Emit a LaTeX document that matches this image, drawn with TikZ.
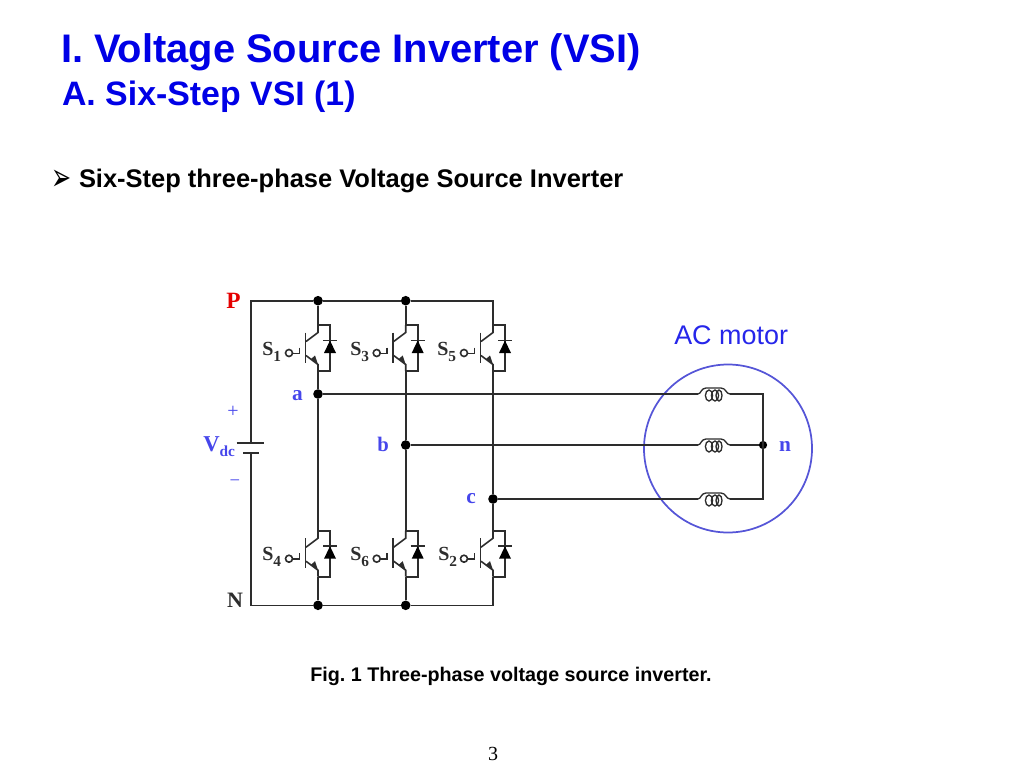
\documentclass[tikz,border=0pt]{standalone}
\usepackage{fontspec}
\setmainfont{Liberation Sans}
\newfontfamily\serifb{Liberation Serif}
\newfontfamily\dejav{DejaVu Sans}
\usetikzlibrary{arrows.meta}
\definecolor{titleblue}{RGB}{0,0,230}
\definecolor{labelblue}{RGB}{70,70,235}
\definecolor{wirec}{RGB}{45,45,45}
\definecolor{motorc}{RGB}{85,85,215}
\newcommand{\fsz}[1]{\fontsize{#1}{#1}\selectfont}
\newcommand{\subs}[1]{\raisebox{-4.5pt}{\fsz{11.5}#1}}
\tikzset{
  x=0.75pt,y=-0.75pt,
  wire/.style={draw=wirec,line width=1.2pt},
  thin wire/.style={draw=wirec,line width=1pt},
  txt/.style={inner sep=0pt,outer sep=0pt,anchor=base west},
  junction/.style={circle,fill=black,inner sep=0pt,minimum size=7.2pt},
  sw label/.style={inner sep=0pt,anchor=base west,text=wirec,font=\serifb\bfseries\fsz{15}},
  cir label/.style={inner sep=0pt,anchor=base,text=labelblue,font=\serifb\bfseries\fsz{16}},
  pics/igbt/.style={code={
    \coordinate (-c) at (0,-24.5);
    \coordinate (-e) at (0,21.5);
    \draw[wire] (0,-24.5) -- (0,-17) -- (-12,-8);
    \draw[wire] (-12,6) -- (0,15) -- (0,21.5);
    \draw[wire,line width=1.3pt] (-12.5,-17) -- (-12.5,13);
    \fill[wirec] (0,15) -- (-7,9.5) -- (-3,6) -- cycle;
    \draw[wire] (0,-24.5) -- (12,-24.5) -- (12,21.5) -- (0,21.5);
    \draw[wire] (5,-9) -- (19,-9);
    \fill[black] (12,-9) -- (18,3.5) -- (6,3.5) -- cycle;
    \draw[wire] (-18.5,-2) -- (-18.5,4) -- (-25.5,4);
    \draw[wire,fill=white] (-29,3.5) circle (3.5);
  }},
  pics/coil/.style={code={
    \draw[thin wire] (-16,0) .. controls (-13,0) and (-13,-6) .. (-8,-6)
       -- (7,-6) .. controls (12,-6) and (12,0) .. (16,0);
    \draw[thin wire] (-5,1.5) ellipse (3.6 and 5.5);
    \draw[thin wire] (1,1.5) ellipse (3.6 and 5.5);
    \draw[thin wire] (5,1.5) ellipse (3 and 5.5);
  }}
}
\begin{document}
\begin{tikzpicture}
\useasboundingbox (0,0) rectangle (1024,768);
% headings
\node[txt,text=titleblue,font=\bfseries\fsz{29.9}] (title) at (61,62.5) {I. Voltage Source Inverter (VSI)};
\node[txt,text=titleblue,font=\bfseries\fsz{25.4}] (sub) at (62,105) {A. Six-Step VSI (1)};
\node[txt,font=\dejav\fsz{18}] (bullet) at (51,190) {\scalebox{1}[1.6]{➢}};
\node[txt,text=black,font=\bfseries\fsz{19.1}] (head) at (79,187) {Six-Step three-phase Voltage Source Inverter};
\node[inner sep=0pt,anchor=base,text=black,font=\bfseries\fsz{14.8}] (fig) at (511,681) {\frenchspacing Fig. 1 Three-phase voltage source inverter.};
\node[inner sep=0pt,anchor=base,font=\serifb\fsz{15}] (page) at (493,760) {3};

% switches
\pic (s1) at (318,349.5) {igbt};
\pic (s3) at (405.7,349.5) {igbt};
\pic (s5) at (493,349.5) {igbt};
\pic (s4) at (318,555.2) {igbt};
\pic (s6) at (405.7,555.2) {igbt};
\pic (s2) at (493,555.2) {igbt};

% junctions
\node[junction] (jp1) at (318,300.7) {};
\node[junction] (jp3) at (405.7,300.7) {};
\coordinate (jp5) at (493,300.7);
\coordinate (pc) at (251,300.7);
\node[junction] (ja) at (318,394) {};
\node[junction] (jb) at (405.7,445) {};
\node[junction] (jc) at (493,499) {};
\node[junction] (jn4) at (318,605.3) {};
\node[junction] (jn6) at (405.7,605.3) {};
\coordinate (jn2) at (493,605.3);
\coordinate (nc) at (251,605.3);
\node[junction,minimum size=6.2pt] (jn) at (763,445) {};
\coordinate (plus) at (251,443);
\coordinate (minus) at (251,452.7);

% buses
\draw[wire] (plus) -- (pc) -- (jp1) -- (jp3) -- (jp5) -- (s5-c);
\draw[wire] (minus) -- (nc) -- (jn4) -- (jn6) -- (jn2) -- (s2-e);
\draw[wire] (jp1) -- (s1-c);
\draw[wire] (jp3) -- (s3-c);
\draw[wire] (s1-e) -- (ja) -- (s4-c);
\draw[wire,line width=1.3pt] (s3-e) -- (jb) -- (s6-c);
\draw[wire] (s5-e) -- (jc) -- (s2-c);
\draw[wire] (s4-e) -- (jn4);
\draw[wire] (s6-e) -- (jn6);
% battery
\coordinate (bt1) at (236.7,443); \coordinate (bt2) at (264,443);
\coordinate (bb1) at (243,452.7); \coordinate (bb2) at (258.5,452.7);
\draw[wire] (bt1) -- (bt2);
\draw[wire] (bb1) -- (bb2);

% motor
\node[draw=motorc,line width=1.3pt,circle,inner sep=0pt,minimum size=126pt] (motor) at (728,448.5) {};
\pic (la) at (714,394) {coil};
\pic (lb) at (714,445) {coil};
\pic (lc) at (714,499) {coil};
\coordinate (la-l) at (698,394); \coordinate (la-r) at (730,394);
\coordinate (lb-l) at (698,445); \coordinate (lb-r) at (730,445);
\coordinate (lc-l) at (698,499); \coordinate (lc-r) at (730,499);
\coordinate (na) at (763,394); \coordinate (nb) at (763,499);
\draw[thin wire] (ja) -- (la-l);
\draw[thin wire] (jb) -- (lb-l);
\draw[thin wire] (jc) -- (lc-l);
\draw[thin wire] (la-r) -- (na) -- (nb) -- (lc-r);
\draw[thin wire] (lb-r) -- (jn);

% labels
\node[inner sep=0pt,anchor=base,text=red!90!black,font=\serifb\bfseries\fsz{17.5}] (lp) at (233.5,308) {P};
\node[inner sep=0pt,anchor=base,text=wirec,font=\serifb\bfseries\fsz{16.5}] (ln) at (235,607.5) {N};
\node[cir label] (la1) at (297.5,400) {a};
\node[cir label,font=\serifb\bfseries\fsz{15.5}] (lb1) at (383,451.5) {b};
\node[cir label] (lc1) at (471,503) {c};
\node[cir label] (ln1) at (785,451.7) {n};
\node[inner sep=0pt,anchor=base,text=labelblue,font=\serifb\fsz{15}] (lplus) at (233,417) {+};
\node[inner sep=0pt,anchor=base,text=labelblue,font=\serifb\fsz{14}] (lminus) at (235,486) {\char"2212};
\node[inner sep=0pt,anchor=base west,text=labelblue,font=\serifb\bfseries\fsz{17}] (lv) at (203,451) {V\raisebox{-3.75pt}{\fsz{11.5}dc}};
\node[sw label] (t1) at (262,355.5) {S\subs{1}};
\node[sw label] (t3) at (350,355.5) {S\subs{3}};
\node[sw label] (t5) at (437,355.5) {S\subs{5}};
\node[sw label] (t4) at (262,560) {S\subs{4}};
\node[sw label] (t6) at (350,560) {S\subs{6}};
\node[sw label] (t2) at (438,560) {S\subs{2}};
\node[inner sep=0pt,anchor=base west,text=titleblue!85!white,font=\fsz{20.2}] (ac) at (674,344) {AC motor};
\end{tikzpicture}
\end{document}
